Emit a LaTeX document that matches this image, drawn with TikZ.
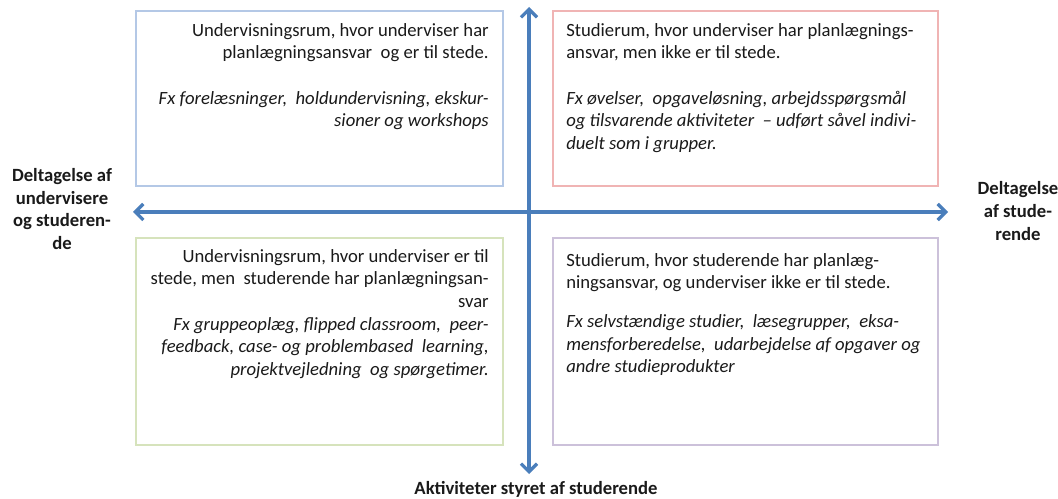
\documentclass[tikz,border=0pt]{standalone}
\usepackage{fontspec}
\setmainfont{Carlito}
\usetikzlibrary{arrows.meta}

\definecolor{axisblue}{HTML}{4A7EBB}
\definecolor{boxblue}{HTML}{B4C8E6}
\definecolor{boxred}{HTML}{F0B4B4}
\definecolor{boxgreen}{HTML}{D6E3BC}
\definecolor{boxpurple}{HTML}{CCC1DA}
\definecolor{txt}{HTML}{1A1A1A}

\begin{document}
\begin{tikzpicture}[x=0.75pt,y=-0.75pt,
    axis/.style={draw=axisblue, line width=2.4pt,
        arrows={Straight Barb[length=6pt,width=12pt]-Straight Barb[length=6pt,width=12pt]}},
    room/.style={line width=0.9pt},
    roomtext/.style={inner sep=0pt, text=txt, font=\fontsize{14}{17}\selectfont},
    axislabel/.style={inner sep=0pt, text=txt, align=center, font=\fontsize{14}{17}\selectfont\bfseries}]

        % the page
        \clip (0,0) rectangle (1058,499);
        \fill[white] (0,0) rectangle (1058,499);

        % draw the rooms
        \draw[room, draw=boxblue] (136,11) rectangle (503,186);
        \draw[room, draw=boxred] (553,11) rectangle (938,186);
        \draw[room, draw=boxgreen] (136,238) rectangle (503,445);
        \draw[room, draw=boxpurple] (553,238) rectangle (938,445);

        % the texts in the rooms
        \node[roomtext, anchor=north east, align=right] (tl) at (489,23) {Undervisningsrum, hvor underviser har\\
            planlægningsansvar\ \ og er til stede.\\[17pt]
            \textit{Fx forelæsninger,\ \ holdundervisning, ekskur-}\\
            \textit{sioner og workshops}};
        \node[roomtext, anchor=north west, align=left] (tr) at (566,23) {Studierum, hvor underviser har planlægnings-\\
            ansvar, men ikke er til stede.\\[17pt]
            \textit{Fx øvelser,\ \ opgaveløsning, arbejdsspørgsmål}\\
            \textit{og tilsvarende aktiviteter\ \ -- udført såvel indivi-}\\
            \textit{duelt som i grupper.}};
        \node[roomtext, anchor=north east, align=right] (bl) at (489,249) {Undervisningsrum, hvor underviser er til\\
            stede, men\ \ studerende har planlægningsan-\\
            svar\\
            \textit{Fx gruppeoplæg, flipped classroom,\ \ peer-}\\
            \textit{feedback, case- og problembased\ \ learning,}\\
            \textit{projektvejledning\ \ og spørgetimer.}};
        \node[roomtext, anchor=north west, align=left] (br) at (566,253) {Studierum, hvor studerende har planlæg-\\
            ningsansvar, og underviser ikke er til stede.\\[12pt]
            \textit{Fx selvstændige studier,\ \ læsegrupper,\ \ eksa-}\\
            \textit{mensforberedelse,\ \ udarbejdelse af opgaver og}\\
            \textit{andre studieprodukter}};

        % the ends of the axes
        \coordinate (west) at (133,212);
        \coordinate (east) at (948,212);
        \coordinate (north) at (529,7);
        \coordinate (south) at (529,474);

        % draw the axes
        \draw[axis] (west) -- (east);
        \draw[axis] (south) -- (north);

        % the axis labels
        \node[axislabel] (left) at (62,209) {Deltagelse af\\undervisere\\og studeren-\\de};
        \node[axislabel] (right) at (1018,211) {Deltagelse\\af stude-\\rende};
        \node[axislabel, anchor=base] (bottom) at (536,494) {Aktiviteter styret af studerende};

\end{tikzpicture}
\end{document}
